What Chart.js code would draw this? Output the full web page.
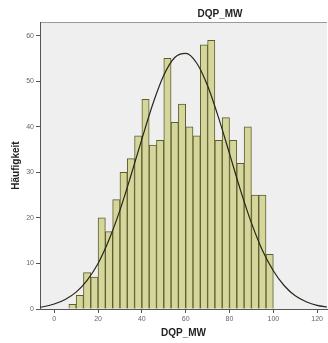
<!DOCTYPE html>
<html>
<head>
<meta charset="utf-8">
<script src="https://cdn.jsdelivr.net/npm/chart.js@4.4.1/dist/chart.umd.min.js"></script>
<style>
  html, body { margin: 0; padding: 0; background: #fff; }
  #wrap { width: 328px; height: 343px; }
</style>
</head>
<body>
<div id="wrap"><canvas id="hist" width="328" height="343"></canvas></div>
<script>
// histogram bins (width 3.333), centres
const binCenters = [8.333, 11.667, 15, 18.333, 21.667, 25, 28.333, 31.667, 35, 38.333,
  41.667, 45, 48.333, 51.667, 55, 58.333, 61.667, 65, 68.333, 71.667,
  75, 78.333, 81.667, 85, 88.333, 91.667, 95, 98.333];
const counts = [1, 3, 8, 7, 20, 17, 24, 30, 33, 38,
  46, 36, 37, 55, 41, 45, 40, 38, 58, 59,
  37, 42, 37, 32, 40, 25, 25, 12];

// normal curve, every 5 units
const curveX = [-10, -5, 0, 5, 10, 15, 20, 25, 30, 35, 40, 45, 50, 55, 60, 65,
  70, 75, 80, 85, 90, 95, 100, 105, 110, 115, 120, 125];
const curveY = [0.25, 0.5, 1.1, 2.1, 3.7, 6.3, 10, 15.2, 21.7, 29.3, 37.3, 45, 51.3, 55.2, 56.1, 54,
  49, 42, 34.1, 26.1, 18.9, 12.9, 8.4, 5.1, 2.9, 1.6, 0.8, 0.4];

const xTicks = [0, 20, 40, 60, 80, 100, 120];
const yTicks = [0, 10, 20, 30, 40, 50, 60];

const chartTitle = 'DQP_MW';
const xTitle = 'DQP_MW';
const yTitle = 'Häufigkeit';

const axisColor = '#555555';
const tickFont = { family: 'Liberation Sans', size: 7 };
const boldFont = { family: 'Liberation Sans', size: 10, weight: 'bold' };

// plot background + top frame + title
const frame = {
  id: 'frame',
  beforeDraw(chart) {
    const { ctx, chartArea } = chart;
    ctx.save();
    ctx.fillStyle = '#efefef';
    ctx.fillRect(chartArea.left, chartArea.top, chartArea.right - chartArea.left, chartArea.bottom - chartArea.top);
    ctx.strokeStyle = '#9a9a9a';
    ctx.lineWidth = 1;
    ctx.beginPath();
    ctx.moveTo(chartArea.left, chartArea.top + 0.5);
    ctx.lineTo(chartArea.right, chartArea.top + 0.5);
    ctx.stroke();
    ctx.restore();
  },
  afterDraw(chart) {
    const { ctx } = chart;
    ctx.save();
    ctx.font = 'bold 10px "Liberation Sans"';
    ctx.fillStyle = '#222';
    ctx.textAlign = 'center';
    ctx.textBaseline = 'middle';
    ctx.fillText(chartTitle, 220, 14);
    ctx.restore();
  }
};

new Chart(document.getElementById('hist'), {
  type: 'bar',
  data: {
    datasets: [
      {
        type: 'line',
        data: curveX.map((x, i) => ({ x, y: curveY[i] })),
        borderColor: '#26261a',
        borderWidth: 1.2,
        pointRadius: 0,
        cubicInterpolationMode: 'monotone',
        order: 0
      },
      {
        type: 'bar',
        data: binCenters.map((x, i) => ({ x, y: counts[i] })),
        backgroundColor: '#d5d69b',
        borderColor: '#5e5e2c',
        borderWidth: 1,
        barPercentage: 1,
        categoryPercentage: 1,
        grouped: false,
        order: 1
      }
    ]
  },
  options: {
    responsive: false,
    animation: false,
    layout: { padding: { left: 0, right: 1, top: 22, bottom: 0 } },
    plugins: { legend: { display: false }, tooltip: { enabled: false } },
    scales: {
      x: {
        type: 'linear',
        offset: false,
        min: -6.5,
        max: 124.5,
        afterBuildTicks: (s) => { s.ticks = xTicks.map(v => ({ value: v })); },
        afterFit: (s) => { s.height = 34; },
        ticks: { font: tickFont, color: '#666', padding: 2, maxRotation: 0, includeBounds: false },
        grid: { offset: false, drawOnChartArea: false, drawTicks: true, tickLength: 4, color: axisColor },
        border: { color: axisColor, width: 1 },
        title: { display: true, text: xTitle, font: boldFont, color: '#222', padding: { top: 0, bottom: 4 } }
      },
      y: {
        min: 0,
        max: 63,
        afterBuildTicks: (s) => { s.ticks = yTicks.map(v => ({ value: v })); },
        afterFit: (s) => { s.width = 40; },
        ticks: { font: tickFont, color: '#666', padding: 2 },
        grid: { drawOnChartArea: false, drawTicks: true, tickLength: 4, color: axisColor },
        border: { color: axisColor, width: 1 },
        title: { display: true, text: yTitle, font: boldFont, color: '#222', padding: { top: 10, bottom: 0 } }
      }
    }
  },
  plugins: [frame]
});
</script>
</body>
</html>
